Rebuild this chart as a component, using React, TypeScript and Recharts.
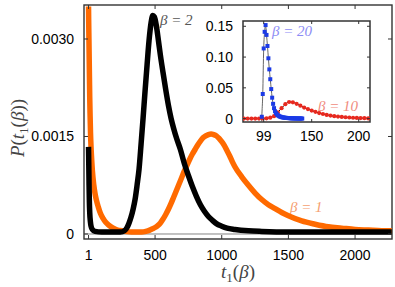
import React from 'react';
import { LineChart, Line, XAxis, YAxis, ReferenceLine } from 'recharts';

// ---- main panel data (t1, P) ----
const beta1T = [1, 2, 4, 6, 8, 10, 13, 16, 20, 25, 30, 40, 50, 60, 75, 90, 110, 130, 150, 170, 195, 220, 250, 280, 320, 360, 400, 430, 460, 480, 500, 520, 540, 560, 580, 600, 620, 640, 660, 680, 700, 720, 740, 760, 780, 800, 820, 840, 860, 880, 900, 920, 940, 960, 980, 1000, 1020, 1040, 1060, 1080, 1100, 1150, 1200, 1250, 1300, 1350, 1400, 1450, 1500, 1600, 1700, 1800, 1900, 2000, 2100, 2200, 2275];
const beta1P = [0.0035, 0.0033, 0.003, 0.0027, 0.0024, 0.0021, 0.0018, 0.00155, 0.00133, 0.00113, 0.00097, 0.00076, 0.00062, 0.00052, 0.00041, 0.00032, 0.00024, 0.00018, 0.00014, 0.00011, 0.00008, 0.00006, 0.00005, 0.00004, 0.00003, 0.00003, 0.00003, 0.00004, 0.00006, 0.00008, 0.0001, 0.00013, 0.00017, 0.00023, 0.0003, 0.00038, 0.00047, 0.00057, 0.00067, 0.00077, 0.00087, 0.00097, 0.00106, 0.00115, 0.00123, 0.0013, 0.00137, 0.00143, 0.00148, 0.00151, 0.00153, 0.00154, 0.00153, 0.00151, 0.00147, 0.00142, 0.00136, 0.00128, 0.0012, 0.00111, 0.00103, 0.00088, 0.00075, 0.00063, 0.00053, 0.00045, 0.00039, 0.00033, 0.00028, 0.0002, 0.00015, 0.00011, 0.00009, 0.00007, 0.00006, 0.00005, 0.00005];

const beta2T = [1, 2, 3, 4, 5, 7, 10, 15, 20, 30, 50, 100, 150, 200, 240, 270, 290, 305, 320, 335, 350, 365, 380, 395, 410, 425, 440, 455, 470, 483, 495, 510, 525, 540, 560, 580, 600, 620, 640, 660, 690, 720, 750, 780, 810, 840, 870, 900, 930, 960, 1000, 1040, 1100, 1200, 1300, 1500, 1800, 2275];
const beta2P = [0.00134, 0.0012, 0.00105, 0.0009, 0.00075, 0.00052, 0.00033, 0.00019, 0.00012, 0.00007, 0.00004, 0.00003, 0.00003, 0.00003, 0.00003, 0.00005, 0.0001, 0.00017, 0.00026, 0.00038, 0.00053, 0.00075, 0.001, 0.00138, 0.00178, 0.0022, 0.0026, 0.00298, 0.00325, 0.00336, 0.00334, 0.0032, 0.00298, 0.00275, 0.00248, 0.00222, 0.00198, 0.00178, 0.00162, 0.00148, 0.0013, 0.00108, 0.0009, 0.00073, 0.00058, 0.00045, 0.00035, 0.00027, 0.00021, 0.00016, 0.00012, 0.00009, 0.00007, 0.00005, 0.00004, 0.00003, 0.00003, 0.00003];

// ---- inset data ----
const beta10T = [78, 82, 86, 90, 94, 98, 102, 106, 110, 114, 118, 122, 126, 130, 134, 138, 142, 146, 150, 154, 158, 162, 166, 170, 174, 178, 182, 186, 190, 194, 198, 202, 206, 210];
const beta10P = [0, 0, 0, 0, 0.0001, 0.0002, 0.0005, 0.0015, 0.004, 0.01, 0.017, 0.0235, 0.027, 0.0265, 0.024, 0.021, 0.018, 0.0155, 0.013, 0.011, 0.009, 0.0075, 0.006, 0.005, 0.004, 0.0033, 0.0027, 0.0022, 0.0018, 0.0014, 0.0011, 0.0009, 0.0007, 0.0005];

const beta20T = [97, 98, 99, 100, 101, 102, 103, 104, 105, 106, 107, 108, 109, 110, 111, 112, 113, 114, 115, 116, 117, 118, 119, 120, 121, 122, 123, 124, 125, 126, 127, 128, 129, 130, 131, 132, 133, 134, 135, 136, 137, 138, 139, 140];
const beta20P = [0.003, 0.04, 0.114, 0.141, 0.152, 0.136, 0.118, 0.098, 0.08, 0.064, 0.048, 0.034, 0.024, 0.017, 0.012, 0.009, 0.007, 0.0055, 0.0045, 0.0035, 0.003, 0.0025, 0.002, 0.0018, 0.0015, 0.0013, 0.0012, 0.001, 0.0009, 0.0008, 0.0007, 0.0006, 0.0005, 0.0005, 0.0004, 0.0004, 0.0003, 0.0003, 0.0003, 0.0002, 0.0002, 0.0002, 0.0002, 0.0001];
// theory line for beta=20 continues below zero at its onset
const beta20LineStartT = [96.8];
const beta20LineStartP = [-0.006];

// ---- ticks ----
const mainXTicks = [1, 500, 1000, 1500, 2000];
const mainYTicks = [0, 0.0015, 0.003];
const mainYTickLabels = ['0', '0.0015', '0.0030'];
const insetXTicks = [99, 150, 200];
const insetYTicks = [0, 0.05, 0.1, 0.15];
const insetYTickLabels = ['0', '0.05', '0.10', '0.15'];

const zip = (ts: number[], ps: number[]) => ts.map((t, i) => ({ t, p: ps[i] }));
const beta1 = zip(beta1T, beta1P);
const beta2 = zip(beta2T, beta2P);
const beta10 = zip(beta10T, beta10P);
const beta20 = zip(beta20T, beta20P);
const beta20Line = [...zip(beta20LineStartT, beta20LineStartP), ...beta20];

const SANS = "'Liberation Sans', Arial, Helvetica, sans-serif";
const SERIF = "'Liberation Serif', 'Times New Roman', serif";
const FRAME = '#333';

// main plot box
const ML = 84, MR = 392, MT = 5, MB = 239;
// inset plot box (local coordinates)
const IL = 48, IR = 175, IT = 11, IB = 112;

const MainXTick = (props: any) => {
  const { x, payload } = props;
  return (
    <g>
      <line x1={x} x2={x} y1={MB} y2={MB - 4} stroke={FRAME} strokeWidth={1} />
      <line x1={x} x2={x} y1={MT} y2={MT + 4} stroke={FRAME} strokeWidth={1} />
      <text x={x} y={260} textAnchor="middle" fontSize={14} fontFamily={SANS} fill="#000">{payload.value}</text>
    </g>
  );
};

const MainYTick = (props: any) => {
  const { y, payload } = props;
  const i = mainYTicks.indexOf(payload.value);
  return (
    <g>
      <line x1={ML} x2={ML + 4} y1={y} y2={y} stroke={FRAME} strokeWidth={1} />
      <line x1={MR} x2={MR - 4} y1={y} y2={y} stroke={FRAME} strokeWidth={1} />
      <text x={74} y={y + 5} textAnchor="end" fontSize={14} fontFamily={SANS} fill="#000">{mainYTickLabels[i]}</text>
    </g>
  );
};

const InsetXTick = (props: any) => {
  const { x, payload } = props;
  return (
    <g>
      <line x1={x} x2={x} y1={IB} y2={IB - 3} stroke={FRAME} strokeWidth={1} />
      <line x1={x} x2={x} y1={IT} y2={IT + 3} stroke={FRAME} strokeWidth={1} />
      <text x={x} y={131} textAnchor="middle" fontSize={14} fontFamily={SANS} fill="#000">{payload.value}</text>
    </g>
  );
};

const InsetYTick = (props: any) => {
  const { y, payload } = props;
  const i = insetYTicks.indexOf(payload.value);
  return (
    <g>
      <line x1={IL} x2={IL + 3} y1={y} y2={y} stroke={FRAME} strokeWidth={1} />
      <line x1={IR} x2={IR - 3} y1={y} y2={y} stroke={FRAME} strokeWidth={1} />
      <text x={38} y={y + 5} textAnchor="end" fontSize={14} fontFamily={SANS} fill="#000">{insetYTickLabels[i]}</text>
    </g>
  );
};

const SquareDot = (props: any) => {
  const { cx, cy, index } = props;
  if (cx == null || cy == null) return <g key={index} />;
  return <rect key={index} x={cx - 2} y={cy - 2} width={4} height={4} fill="#1b3ae6" />;
};

export default function App() {
  return (
    <div style={{ position: 'absolute', left: 0, top: 0, width: 395, height: 287, background: '#fff' }}>
      <div style={{ position: 'absolute', left: 0, top: 0 }}>
        <LineChart width={395} height={287} margin={{ top: MT, right: 395 - MR, bottom: 0, left: 0 }}>
          <XAxis type="number" dataKey="t" domain={[-33, 2277]} ticks={mainXTicks} interval={0} height={287 - MB}
            allowDataOverflow axisLine={false} tickLine={false} tick={MainXTick} />
          <YAxis type="number" dataKey="p" domain={[-0.000077, 0.003523]} ticks={mainYTicks} interval={0} width={ML}
            allowDataOverflow axisLine={false} tickLine={false} tick={MainYTick} />
          <ReferenceLine y={0} stroke="#666" strokeWidth={0.8} />
          <Line data={beta1} dataKey="p" type="monotone" stroke="#ff6a00" strokeWidth={5.5} dot={false} isAnimationActive={false} />
          <Line data={beta2} dataKey="p" type="monotone" stroke="#000" strokeWidth={5.5} dot={false} isAnimationActive={false} />
          <rect x={ML} y={MT} width={MR - ML} height={MB - MT} fill="none" stroke={FRAME} strokeWidth={1.4} />
          <text x={160} y={25} fontSize={15} fontFamily={SERIF} fontStyle="italic" fill="#555">β = 2</text>
          <text x={290} y={212} fontSize={15} fontFamily={SERIF} fontStyle="italic" fill="#f5a070">β = 1</text>
          <text x={238} y={278} textAnchor="middle" fontSize={19} fontFamily={SERIF} fill="#444">
            <tspan fontStyle="italic">t</tspan><tspan fontSize={13} dy={4}>1</tspan><tspan dy={-4}>(</tspan><tspan fontStyle="italic">β</tspan><tspan>)</tspan>
          </text>
          <text x={24} y={128} textAnchor="middle" fontSize={19} fontFamily={SERIF} fill="#444" transform="rotate(-90 24 128)">
            <tspan fontStyle="italic">P</tspan><tspan>(</tspan><tspan fontStyle="italic">t</tspan><tspan fontSize={13} dy={4}>1</tspan><tspan dy={-4}>(</tspan><tspan fontStyle="italic">β</tspan><tspan>))</tspan>
          </text>
        </LineChart>
      </div>
      <div style={{ position: 'absolute', left: 195, top: 10 }}>
        <LineChart width={195} height={140} margin={{ top: IT, right: 195 - IR, bottom: 0, left: 0 }}>
          <XAxis type="number" dataKey="t" domain={[77, 212]} ticks={insetXTicks} interval={0} height={140 - IB}
            allowDataOverflow axisLine={false} tickLine={false} tick={InsetXTick} />
          <YAxis type="number" dataKey="p" domain={[-0.0055, 0.1586]} ticks={insetYTicks} interval={0} width={IL}
            allowDataOverflow axisLine={false} tickLine={false} tick={InsetYTick} />
          <Line data={beta10} dataKey="p" stroke="none" strokeWidth={0} dot={{ r: 2.1, fill: '#e8281e', stroke: 'none' }} isAnimationActive={false} />
          <Line data={beta10} dataKey="p" type="monotone" stroke="#111" strokeWidth={1} dot={false} isAnimationActive={false} />
          <Line data={beta20} dataKey="p" stroke="none" strokeWidth={0} dot={SquareDot} isAnimationActive={false} />
          <Line data={beta20Line} dataKey="p" type="monotone" stroke="#555" strokeWidth={0.9} dot={false} isAnimationActive={false} />
          <rect x={IL} y={IT} width={IR - IL} height={IB - IT} fill="none" stroke={FRAME} strokeWidth={1.5} />
          <text x={77} y={26} fontSize={15} fontFamily={SERIF} fontStyle="italic" fill="#8c8cf5">β = 20</text>
          <text x={123} y={101} fontSize={15} fontFamily={SERIF} fontStyle="italic" fill="#f08c80">β = 10</text>
        </LineChart>
      </div>
    </div>
  );
}
